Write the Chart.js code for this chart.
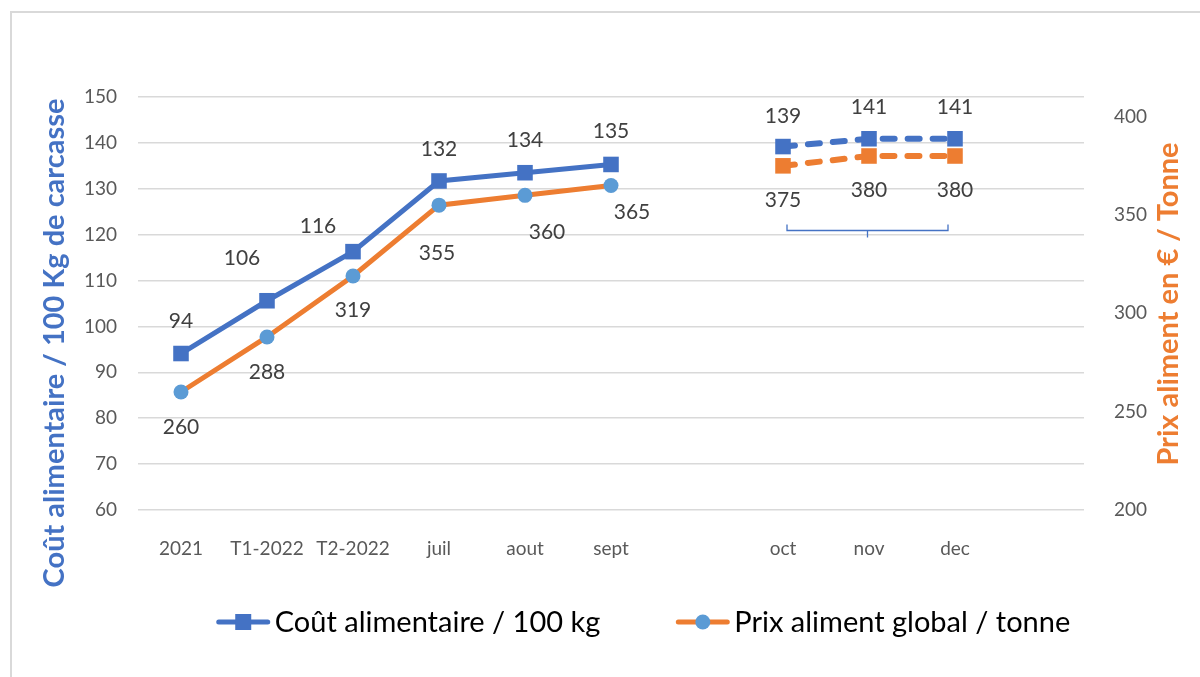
<!DOCTYPE html>
<html>
<head>
<meta charset="utf-8">
<script src="https://cdn.jsdelivr.net/npm/chart.js@4/dist/chart.umd.min.js"></script>
<style>
  body { margin: 0; background: #fff; }
  #wrap { position: relative; width: 1200px; height: 677px; overflow: hidden; }
  #cadre { position: absolute; left: 10px; top: 11px; right: -5px; bottom: -5px; border-left: 2px solid #d9d9d9; border-top: 2px solid #d9d9d9; }
  canvas { position: absolute; left: 0; top: 0; }
</style>
</head>
<body>
<div id="wrap"><div id="cadre"></div><canvas id="graf" width="1200" height="677"></canvas></div>
<script>
// --- DONNÉES ---
const categories = ['2021', 'T1-2022', 'T2-2022', 'juil', 'aout', 'sept', '', 'oct', 'nov', 'dec', ''];
const coutReel   = [94.1, 105.6, 116.3, 131.7, 133.5, 135.3, null, null, null, null, null];
const coutPrevu  = [null, null, null, null, null, null, null, 139.2, 140.9, 140.9, null];
const prixReel   = [260, 288, 319, 355, 360, 365, null, null, null, null, null];
const prixPrevu  = [null, null, null, null, null, null, null, 375, 380, 380, null];
const ticksCout  = [60, 70, 80, 90, 100, 110, 120, 130, 140, 150];
const ticksPrix  = [200, 250, 300, 350, 400];

// décalage des étiquettes (style, en px)
const decalCout = [[0,-32],[-25,-43],[-35,-25],[0,-32],[0,-32],[0,-33],[0,0],[0,-30],[0,-32],[0,-32],[0,0]];
const decalPrix = [[0,35],[0,35],[0,34],[-2,48],[22,37],[21,27],[0,0],[0,34],[0,34],[0,34],[0,0]];

const BLEU = '#4472C4', ORANGE = '#ED7D31', BLEU_CLAIR = '#5B9BD5';
const POLICE = 'Lato, "Open Sans", sans-serif';

const decor = {
  id: 'decor',
  afterDatasetsDraw(chart) {
    const { ctx, scales: { x, y } } = chart;
    // accolade sous oct-dec
    const xa = x.getPixelForValue(7) + 4, xb = x.getPixelForValue(9) - 7;
    const xm = (xa + xb) / 2, yb = Math.round(y.getPixelForValue(121)) + 0.5;
    ctx.save();
    ctx.strokeStyle = BLEU; ctx.lineWidth = 1.3;
    ctx.beginPath();
    ctx.moveTo(xa, yb - 6); ctx.lineTo(xa, yb); ctx.lineTo(xb, yb); ctx.lineTo(xb, yb - 6);
    ctx.moveTo(xm, yb); ctx.lineTo(xm, yb + 7);
    ctx.stroke();

    // étiquettes de données
    ctx.font = '21px ' + POLICE;
    ctx.fillStyle = '#404040';
    ctx.textAlign = 'center';
    ctx.textBaseline = 'middle';
    chart.data.datasets.forEach((ds, i) => {
      const meta = chart.getDatasetMeta(i);
      const decal = ds.yAxisID === 'y1' ? decalPrix : decalCout;
      meta.data.forEach((pt, j) => {
        if (ds.data[j] == null) return;
        ctx.fillText(Math.round(ds.data[j]), pt.x + decal[j][0], pt.y + decal[j][1]);
      });
    });
    ctx.restore();
  },
  afterDraw(chart) {
    const { ctx } = chart;
    ctx.save();
    // titres des axes
    ctx.font = 'bold 29px ' + POLICE;
    ctx.textAlign = 'center';
    ctx.textBaseline = 'middle';
    ctx.fillStyle = BLEU;
    ctx.translate(55, 343); ctx.rotate(-Math.PI / 2);
    ctx.fillText('Coût alimentaire / 100 Kg de carcasse', 0, 0);
    ctx.setTransform(1, 0, 0, 1, 0, 0);
    ctx.fillStyle = ORANGE;
    ctx.translate(1169, 304); ctx.rotate(-Math.PI / 2);
    ctx.fillText('Prix aliment en € / Tonne', 0, 0);
    ctx.setTransform(1, 0, 0, 1, 0, 0);

    // légende
    const items = [
      { txt: chart.data.datasets[0].label, ligne: BLEU, point: BLEU, forme: 'rect' },
      { txt: chart.data.datasets[1].label, ligne: ORANGE, point: BLEU_CLAIR, forme: 'circle' }
    ];
    ctx.font = '29px ' + POLICE;
    const lg = 55, esp = 4, ecart = 75;
    const larg = items.map(it => lg + esp + ctx.measureText(it.txt).width);
    const total = larg.reduce((a, b) => a + b, 0) + ecart;
    let cx = 643 - total / 2;
    const ly = 622;
    items.forEach((it, k) => {
      ctx.strokeStyle = it.ligne; ctx.lineWidth = 5; ctx.lineCap = 'round';
      ctx.beginPath(); ctx.moveTo(cx + 3, ly); ctx.lineTo(cx + lg - 3, ly); ctx.stroke();
      ctx.fillStyle = it.point;
      if (it.forme === 'rect') ctx.fillRect(cx + lg / 2 - 8, ly - 8, 16, 16);
      else { ctx.beginPath(); ctx.arc(cx + lg / 2, ly, 7.5, 0, Math.PI * 2); ctx.fill(); }
      ctx.fillStyle = '#000';
      ctx.textAlign = 'left';
      ctx.fillText(it.txt, cx + lg + esp, ly + 1);
      cx += larg[k] + ecart;
    });
    ctx.restore();
  }
};

new Chart(document.getElementById('graf'), {
  type: 'line',
  data: {
    labels: categories,
    datasets: [
      { label: 'Coût alimentaire / 100 kg', data: coutReel, yAxisID: 'y',
        borderColor: BLEU, backgroundColor: BLEU, borderWidth: 5,
        pointStyle: 'rect', pointRadius: 11, pointHoverRadius: 11, pointBorderWidth: 0, spanGaps: false },
      { label: 'Prix aliment global / tonne', data: prixReel, yAxisID: 'y1',
        borderColor: ORANGE, backgroundColor: BLEU_CLAIR, borderWidth: 5,
        pointStyle: 'circle', pointRadius: 7.5, pointHoverRadius: 7.5, pointBorderWidth: 0, spanGaps: false },
      { label: 'Coût prévu', data: coutPrevu, yAxisID: 'y',
        borderColor: BLEU, backgroundColor: BLEU, borderWidth: 6, borderDash: [12, 13], borderCapStyle: 'round',
        pointStyle: 'rect', pointRadius: 11, pointHoverRadius: 11, pointBorderWidth: 0 },
      { label: 'Prix prévu', data: prixPrevu, yAxisID: 'y1',
        borderColor: ORANGE, backgroundColor: ORANGE, borderWidth: 6, borderDash: [12, 13], borderCapStyle: 'round',
        pointStyle: 'rect', pointRadius: 11, pointHoverRadius: 11, pointBorderWidth: 0 }
    ]
  },
  options: {
    responsive: false,
    animation: false,
    layout: { padding: { top: 97, bottom: 107, left: 0, right: 0 } },
    plugins: { legend: { display: false }, tooltip: { enabled: false } },
    scales: {
      x: {
        offset: true,
        grid: { display: false },
        border: { display: false },
        ticks: { color: '#595959', font: { family: POLICE, size: 19 }, padding: 19, maxRotation: 0, autoSkip: false },
        afterFit: s => { s.height = 60; }
      },
      y: {
        position: 'left',
        min: ticksCout[0], max: ticksCout[ticksCout.length - 1],
        afterBuildTicks: s => { s.ticks = ticksCout.map(v => ({ value: v })); },
        grid: { color: '#d9d9d9', lineWidth: 1.5, drawTicks: false },
        border: { display: false },
        ticks: { color: '#595959', font: { family: POLICE, size: 19 }, padding: 21 },
        afterFit: s => { s.width = 138; }
      },
      y1: {
        position: 'right',
        min: 200, max: 410,
        afterBuildTicks: s => { s.ticks = ticksPrix.map(v => ({ value: v })); },
        grid: { display: false },
        border: { display: false },
        ticks: { color: '#595959', font: { family: POLICE, size: 19 }, padding: 22 },
        afterFit: s => { s.width = 116; }
      }
    }
  },
  plugins: [decor]
});
</script>
</body>
</html>
